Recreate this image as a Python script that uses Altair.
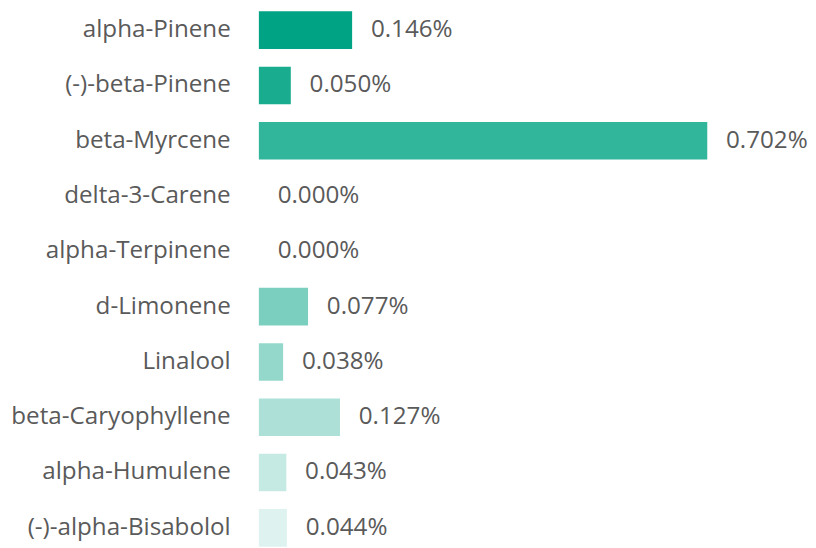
import altair as alt
import pandas as pd

terpenes = ["alpha-Pinene", "(-)-beta-Pinene", "beta-Myrcene", "delta-3-Carene",
            "alpha-Terpinene", "d-Limonene", "Linalool", "beta-Caryophyllene",
            "alpha-Humulene", "(-)-alpha-Bisabolol"]
values = [0.146, 0.050, 0.702, 0.000, 0.000, 0.077, 0.038, 0.127, 0.043, 0.044]

df = pd.DataFrame({"terpene": terpenes, "value": values, "idx": list(range(len(terpenes)))})
df["label"] = df["value"].map(lambda v: f"{v:.3f}%")

FONT = "Open Sans"
GRAY = "#5a5a5a"

y = alt.Y("terpene:N", sort=terpenes, title=None,
          scale=alt.Scale(paddingInner=0.32, paddingOuter=0.0),
          axis=alt.Axis(domain=False, ticks=False, grid=False, labelFont=FONT,
                        labelFontSize=24.5, labelColor=GRAY, labelPadding=29, labelLimit=400))
x = alt.X("value:Q", title=None, scale=alt.Scale(domain=[0, 0.702], nice=False),
          axis=None)

bars = alt.Chart(df).mark_bar(color="#00a383").encode(
    x=x, y=y,
    opacity=alt.Opacity("idx:Q", scale=alt.Scale(domain=[0, 9], range=[1.0, 0.13]), legend=None),
)
text = alt.Chart(df).mark_text(align="left", baseline="middle", dx=19, font=FONT,
                               fontSize=24.5, color=GRAY).encode(
    x=x, y=y, text="label:N")

chart = (bars + text).properties(
    width=454, height=542,
    padding={"left": 2, "top": 0, "right": 0, "bottom": 0},
).configure_view(stroke=None)
chart.save("out.html", embed_options={"renderer": "svg", "actions": False})
